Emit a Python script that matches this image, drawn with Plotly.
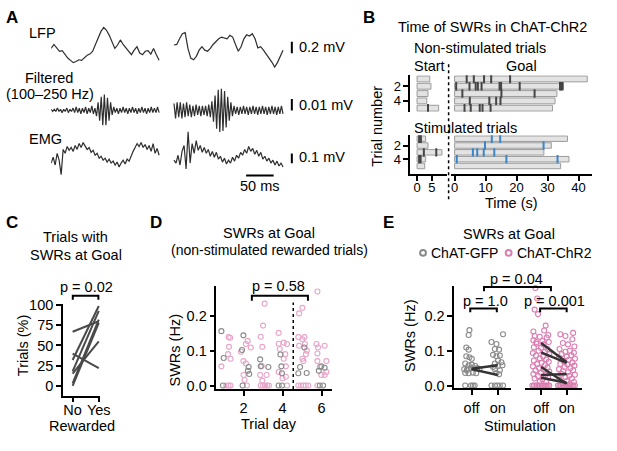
import numpy as np
import plotly.graph_objects as go

W, H = 617, 451
FONT = "Liberation Sans, Arial, sans-serif"
FS = 14.5

# ---- A: example SWR events (two events side by side), values in mV
lfp_left = [-0.06, 0.01, -0.05, -0.11, -0.10, -0.17, -0.23, -0.27, -0.31, -0.29,
            -0.26, -0.27, -0.22, -0.18, -0.16, -0.11, 0.01, 0.14, 0.24, 0.31,
            0.26, 0.17, 0.06, -0.06, 0.00, 0.09, 0.01, -0.05, -0.13, -0.17,
            -0.09, -0.03, -0.14, -0.17, -0.11, -0.10, -0.16, -0.06, -0.17, -0.27]
lfp_right = [0.00, 0.01, 0.11, 0.20, 0.22, -0.06, -0.23, -0.26, -0.20, -0.09,
             -0.03, -0.09, -0.11, -0.06, 0.01, 0.07, 0.11, 0.14, 0.13, 0.11,
             0.17, 0.14, 0.01, -0.11, -0.03, 0.11, 0.18, 0.16, 0.20, 0.11,
             -0.05, -0.03, -0.09, -0.17, -0.23, -0.30, -0.39, -0.31, -0.20, -0.09]
# filtered trace in microvolts
filt_left_uv = [1, -1, 1, -1, 2, -1, 1, -2, 1, -1,
                2, -2, 1, -1, 2, -2, 3, -2, 2, -3,
                2, -2, 3, -3, 2, -2, 4, -3, 2, -5,
                7, -9, 12, -13, 14, -13, 11, -9, 7, -4,
                3, -2, 2, -3, 2, -2, 3, -2, 2, -3,
                2, -2, 3, -2, 2, -3, 2, -2, 3, -2,
                2, -3, 2, -2, 3, -2, 2, -2, 3, -2]
filt_right_uv = [6, -7, 7, -6, 7, -7, 6, -6, 7, -5,
                 5, -6, 4, -5, 5, -4, 4, -5, 4, -4,
                 4, -5, 5, -6, 8, -10, 13, -16, 18, -19,
                 19, -18, 17, -15, 12, -9, 7, -5, 4, -3,
                 3, -4, 3, -3, 4, -3, 3, -4, 3, -3,
                 4, -3, 3, -4, 3, -3, 4, -3, 3, -4,
                 3, -3, 4, -3, 3, -4, 3, -3, 4, -3]
emg_left = [-0.08, -0.02, -0.10, 0.02, -0.05, -0.20, 0.06, 0.02, 0.09, 0.05,
            0.08, 0.04, 0.10, 0.06, 0.12, 0.08, 0.13, 0.09, 0.06, 0.08,
            0.03, 0.05, 0.00, 0.02, -0.03, -0.01, -0.05, -0.03, -0.07, -0.04,
            -0.08, -0.06, -0.10, -0.07, -0.12, -0.08, -0.05, -0.09, -0.04, -0.06,
            0.00, 0.04, 0.08, 0.12, 0.09, 0.13, 0.08, 0.11, 0.06, 0.10,
            0.04, 0.12, 0.02, 0.07, 0.00]
emg_right = [-0.05, -0.08, 0.00, -0.10, 0.04, 0.10, -0.14, 0.24, -0.08, 0.12,
             0.02, 0.15, 0.05, 0.10, 0.03, 0.08, 0.02, 0.06, -0.01, 0.04,
             -0.02, 0.03, -0.04, -0.01, -0.07, -0.03, -0.09, -0.05, -0.08, -0.02,
             -0.06, 0.00, -0.03, 0.03, 0.00, 0.06, 0.02, 0.09, 0.04, 0.07,
             0.01, 0.05, -0.01, 0.03, -0.04, -0.01, -0.06, -0.03, -0.08, -0.05,
             -0.10, -0.06, -0.11, -0.08, -0.12]

# ---- B: trial durations (s) and SWR times (s), trials 1-5
start_ns = [4.3, 4.7, 3.7, 3.3, 7.3]
goal_ns = [42.8, 35.1, 33.0, 32.4, 31.6]
start_st = [2.9, 3.7, 8.4, 2.9, 2.6]
goal_st = [36.4, 31.2, 28.8, 36.9, 34.2]
swr_start_ns = [[], [], [], [], [3.7]]
swr_goal_ns = [[3.9, 6.2, 9.5, 11.8, 17.9],
               [0.5, 4.8, 6.8, 7.5, 8.7, 14.5, 15.0, 21.0, 34.0, 34.4, 34.8],
               [2.5, 15.1, 25.8],
               [4.9, 11.2, 13.4, 14.8],
               [3.2, 5.2, 8.1, 9.0, 11.6]]
swr_start_st = [[0.7, 1.3], [], [2.3, 6.5], [0.7, 1.2], []]
swr_goal_st = [[12.0, 14.7], [9.8, 28.7], [5.9, 7.3, 9.4, 12.8], [0.7, 16.7, 33.2], []]

# ---- C: % trials with SWRs at goal, per animal
c_no = [67, 40, 32, 18, 15, 3, 0]
c_yes = [80, 22, 99, 93, 55, 82, 78]

# ---- D: SWR rate (Hz) by trial day (x includes jitter as drawn)
d_gfp_day = [0.86, 0.98, 0.94, 1.99, 1.92, 2.26, 2.22, 2.29, 1.95, 2.85, 2.88, 3.27,
             3.89, 3.94, 3.97, 3.80, 3.97, 5.12, 4.90, 4.81, 5.24, 5.99, 6.16, 5.86,
             5.91, 6.08]
d_gfp_val = [0.156, 0.079, 0.0, 0.144, 0.102, 0.053, 0.042, 0.033, 0.0, 0.075, 0.055, 0.053,
             0.089, 0.055, 0.035, 0.0, 0.0, 0.109, 0.053, 0.035, 0.036, 0.055, 0.051, 0.042,
             0.0, 0.0]
d_chr2_day = [0.86, 1.23, 1.31, 1.25, 1.33, 1.20, 1.11, 1.23, 1.33,
              2.21, 2.12, 2.37, 1.99, 2.12, 2.05, 2.00, 1.87, 2.17,
              3.08, 3.00, 2.88, 2.96, 2.93, 2.85, 2.96, 3.18, 2.88, 3.00, 3.10, 3.20, 3.30,
              3.80, 4.06, 4.23, 3.80, 3.86, 4.14, 4.17, 4.00, 4.17, 3.80, 4.06, 4.23,
              5.02, 4.85, 4.81, 5.12, 5.02, 4.85, 5.15, 5.20, 5.24, 5.07, 5.02,
              4.81, 4.95, 5.07, 5.19, 5.32,
              5.79, 5.74, 5.82, 6.16, 5.79, 5.79, 6.25, 5.99, 6.16, 5.91, 6.25, 5.79]
d_chr2_val = [0.055, 0.139, 0.137, 0.111, 0.077, 0.090, 0.0, 0.0, 0.0,
              0.128, 0.119, 0.109, 0.070, 0.063, 0.016, 0.030, 0.097, 0.0,
              0.235, 0.172, 0.140, 0.111, 0.056, 0.030, 0.014, 0.030, 0.0, 0.0, 0.0, 0.0, 0.0,
              0.151, 0.123, 0.119, 0.120, 0.105, 0.090, 0.055, 0.021, 0.025, 0.039, 0.077, 0.0,
              0.223, 0.207, 0.139, 0.139, 0.133, 0.114, 0.119, 0.090, 0.100, 0.070, 0.077,
              0.0, 0.0, 0.0, 0.0, 0.0,
              0.270, 0.119, 0.109, 0.114, 0.092, 0.070, 0.070, 0.030, 0.030, 0.053, 0.039, 0.0]

# ---- E: SWR rate (Hz), stimulation off/on (dx = horizontal jitter as drawn)
e_gfp_off_dx = [-0.08, -0.11, -0.20, -0.11, -0.20, -0.08, 0.01, -0.24, -0.11, 0.01, 0.14,
                -0.28, -0.15, -0.02, 0.10, 0.22, -0.24, -0.11, 0.05, 0.18, -0.18, 0.30,
                -0.24, -0.02, 0.05, 0.12]
e_gfp_off_val = [0.159, 0.145, 0.109, 0.103, 0.084, 0.081, 0.077, 0.063, 0.058, 0.060, 0.056,
                 0.047, 0.049, 0.050, 0.049, 0.050, 0.036, 0.035, 0.037, 0.035, 0.044, 0.047,
                 0.0, 0.0, 0.0, 0.0]
e_gfp_on_dx = [0.20, -0.24, -0.05, -0.11, 0.05, -0.18, -0.05, 0.08, 0.01, 0.14, -0.11, 0.01,
               0.18, -0.11, 0.08, -0.05, 0.05, -0.18, -0.24, -0.11, -0.02, 0.08, 0.20]
e_gfp_on_val = [0.147, 0.125, 0.119, 0.105, 0.103, 0.088, 0.084, 0.086, 0.072, 0.067, 0.063,
                0.056, 0.058, 0.047, 0.044, 0.036, 0.032, 0.053, 0.0, 0.0, 0.0, 0.0, 0.0]
e_chr2_off_dx = [-0.22, -0.15, -0.25, -0.12, 0.18, 0.12, -0.25, -0.05, 0.22, -0.30, 0.05, 0.30,
                 -0.18, 0.10, -0.28, 0.00, 0.25, -0.10, 0.15, -0.32, 0.32, -0.20, 0.08, -0.05,
                 0.20, -0.28, 0.30, 0.02, -0.15, 0.15, -0.32, 0.25, -0.08, 0.10, -0.22, 0.32,
                 0.00, -0.30, 0.18, -0.12, 0.27, -0.25, 0.05, -0.05, 0.20, -0.18, 0.28, -0.30,
                 -0.34, -0.28, -0.22, -0.16, -0.10, -0.04, 0.02, 0.08, 0.14, 0.20, 0.26, 0.32]
e_chr2_off_val = [0.280, 0.250, 0.218, 0.205, 0.172, 0.158, 0.142, 0.140, 0.138, 0.130, 0.128,
                  0.125, 0.120, 0.118, 0.110, 0.108, 0.105, 0.100, 0.097, 0.093, 0.090, 0.086,
                  0.083, 0.078, 0.075, 0.072, 0.068, 0.065, 0.062, 0.058, 0.055, 0.052, 0.050,
                  0.046, 0.043, 0.040, 0.037, 0.033, 0.030, 0.027, 0.024, 0.020, 0.018, 0.012,
                  0.010, 0.125, 0.145, 0.155,
                  0.0, 0.0, 0.0, 0.0, 0.0, 0.0, 0.0, 0.0, 0.0, 0.0, 0.0, 0.0]
e_chr2_on_dx = [-0.25, -0.05, 0.25, 0.22, -0.15, 0.05, 0.30, -0.28, 0.12, -0.05, 0.28, -0.20,
                0.18, 0.00, -0.30, 0.32, 0.08, -0.12, 0.22, -0.25, 0.02, 0.30, -0.08, 0.15,
                -0.30, 0.25, -0.15, 0.05, -0.22, 0.32, 0.10, -0.05, 0.20, -0.28, 0.00, 0.28,
                -0.15, 0.12,
                -0.34, -0.28, -0.22, -0.16, -0.10, -0.04, 0.02, 0.08, 0.14, 0.20, 0.26, 0.32]
e_chr2_on_val = [0.147, 0.142, 0.151, 0.133, 0.122, 0.118, 0.112, 0.105, 0.100, 0.097, 0.094,
                 0.090, 0.087, 0.083, 0.080, 0.077, 0.074, 0.070, 0.066, 0.062, 0.060, 0.057,
                 0.054, 0.050, 0.047, 0.044, 0.041, 0.038, 0.034, 0.031, 0.028, 0.024, 0.020,
                 0.017, 0.013, 0.010, 0.007, 0.004,
                 0.0, 0.0, 0.0, 0.0, 0.0, 0.0, 0.0, 0.0, 0.0, 0.0, 0.0, 0.0]
# per-animal means
e_gfp_mean_off = [0.048, 0.047]
e_gfp_mean_on = [0.058, 0.030]
e_chr2_mean_off = [0.122, 0.095, 0.053, 0.030, 0.022]
e_chr2_mean_on = [0.067, 0.065, 0.005, 0.033, 0.008]

TRACE = "#2e2e2e"
BAR_FILL = "#e3e3e3"
BAR_LINE = "#9c9c9c"
SWR_DARK = "#454545"
SWR_BLUE = "#3b86c6"
GRAY = "#8a8a8a"
PINK_D = "#e8a4c9"
PINK_E = "#da7db1"


def xd(a, b):
    return [a / W, b / W]


def dom(bottom, top):
    return [1 - bottom / H, 1 - top / H]


fig = go.Figure()

# A traces
for yax, scale, left, right in [("y", 1, lfp_left, lfp_right),
                                ("y2", 0.001, filt_left_uv, filt_right_uv),
                                ("y3", 1, emg_left, emg_right)]:
    for vals, t0, t1 in [(left, 0, 196), (right, 223, 421)]:
        fig.add_trace(go.Scatter(x=np.linspace(t0, t1, len(vals)),
                                 y=np.array(vals) * scale, mode="lines",
                                 line=dict(color=TRACE, width=1.2),
                                 xaxis="x", yaxis=yax, hoverinfo="skip"))


# B bars and SWR ticks
def trial_rows(starts, goals, swr_s, swr_g, xs, xg, yax, tick_color_goal):
    rows = list(range(1, len(starts) + 1))
    for xax, dur in [(xs, starts), (xg, goals)]:
        fig.add_trace(go.Bar(x=dur, y=rows, orientation="h", width=0.8,
                             marker=dict(color=BAR_FILL, line=dict(color=BAR_LINE, width=1)),
                             xaxis=xax, yaxis=yax, hoverinfo="skip"))
    for xax, ev, col in [(xs, swr_s, SWR_DARK), (xg, swr_g, tick_color_goal)]:
        ex = [t for r in ev for t in r]
        ey = [i + 1 for i, r in enumerate(ev) for _ in r]
        fig.add_trace(go.Scatter(x=ex, y=ey, mode="markers",
                                 marker=dict(symbol="line-ns", size=6,
                                             line=dict(color=col, width=2)),
                                 xaxis=xax, yaxis=yax, hoverinfo="skip"))


trial_rows(start_ns, goal_ns, swr_start_ns, swr_goal_ns, "x2", "x3", "y4", SWR_DARK)
trial_rows(start_st, goal_st, swr_start_st, swr_goal_st, "x4", "x5", "y5", SWR_BLUE)

# C lines
for a, b in zip(c_no, c_yes):
    fig.add_trace(go.Scatter(x=[0, 1], y=[a, b], mode="lines",
                             line=dict(color="#4a4a4a", width=2),
                             xaxis="x6", yaxis="y6", hoverinfo="skip"))


# D scatter
def open_pts(x, y, color, xax, yax, lw=1.1):
    fig.add_trace(go.Scatter(x=x, y=y, mode="markers", cliponaxis=False,
                             marker=dict(symbol="circle-open", size=5, color=color,
                                         line=dict(width=lw)),
                             xaxis=xax, yaxis=yax, hoverinfo="skip"))


open_pts(d_chr2_day, d_chr2_val, PINK_D, "x7", "y7")
open_pts(d_gfp_day, d_gfp_val, GRAY, "x7", "y7")

# E scatter
open_pts(np.array(e_gfp_off_dx), e_gfp_off_val, GRAY, "x8", "y8")
open_pts(np.array(e_gfp_on_dx) + 1, e_gfp_on_val, GRAY, "x8", "y8")
open_pts(np.array(e_chr2_off_dx), e_chr2_off_val, PINK_E, "x9", "y8")
open_pts(np.array(e_chr2_on_dx) + 1, e_chr2_on_val, PINK_E, "x9", "y8")
for xax, offs, ons in [("x8", e_gfp_mean_off, e_gfp_mean_on),
                       ("x9", e_chr2_mean_off, e_chr2_mean_on)]:
    for a, b in zip(offs, ons):
        fig.add_trace(go.Scatter(x=[0, 1], y=[a, b], mode="lines",
                                 line=dict(color="#333333", width=2.5),
                                 xaxis=xax, yaxis="y8", hoverinfo="skip"))

AX = dict(showgrid=False, zeroline=False, showline=True, linecolor="black", linewidth=1.5,
          ticks="outside", ticklen=5, tickwidth=1.5, tickcolor="black",
          tickfont=dict(size=FS, family=FONT, color="black"), fixedrange=True)
# panel B uses slightly smaller tick labels
AXB = dict(AX, tickfont=dict(size=13, family=FONT, color="black"))


def text(s, x, y, xa="center", size=FS, angle=0, bold=False):
    return dict(text=f"<b>{s}</b>" if bold else s, x=x / W, y=1 - y / H,
                xref="paper", yref="paper", xanchor=xa, yanchor="middle",
                showarrow=False, textangle=angle,
                font=dict(size=size, family=FONT, color="black"))


def bracket(x0, x1, y, leg):
    return dict(type="path", xref="paper", yref="paper",
                path=f"M {x0 / W},{1 - (y + leg) / H} L {x0 / W},{1 - y / H} "
                     f"L {x1 / W},{1 - y / H} L {x1 / W},{1 - (y + leg) / H}",
                line=dict(color="black", width=2))


annotations = [
    text("A", 4, 12, "left", 17, bold=True),
    text("B", 367, 12, "left", 17, bold=True),
    text("C", 4, 222, "left", 17, bold=True),
    text("D", 150, 222, "left", 17, bold=True),
    text("E", 387, 222, "left", 17, bold=True),
    # A
    text("LFP", 27, 28, "left"),
    text("Filtered", 50, 74),
    text("(100–250 Hz)", 51, 90),
    text("EMG", 27, 136, "left"),
    text("0.2 mV", 302, 42, "left"),
    text("0.01 mV", 302, 101, "left"),
    text("0.1 mV", 302, 155, "left"),
    text("50 ms", 264, 184),
    # B
    text("Time of SWRs in ChAT-ChR2", 501, 22),
    text("Non-stimulated trials", 419, 43, "left"),
    text("Start", 419, 62, "left"),
    text("Goal", 530, 62),
    text("Stimulated trials", 419, 125, "left"),
    text("Time (s)", 520, 202),
    text("Trial number", 383, 123, angle=-90),
    # C
    text("Trials with", 77, 237),
    text("SWRs at Goal", 77, 255),
    text("p = 0.02", 88, 288),
    text("Trials (%)", 23, 348, angle=-90),
    text("Rewarded", 83, 431),
    # D
    text("SWRs at Goal", 273, 233),
    text("(non-stimulated rewarded trials)", 274, 250, size=14),
    text("p = 0.58", 283, 287),
    text("SWRs (Hz)", 178, 353, angle=-90),
    text("Trial day", 273, 428),
    # E
    text("SWRs at Goal", 517, 234),
    text("ChAT-GFP", 436, 253, "left", size=14),
    text("ChAT-ChR2", 523, 253, "left", size=14),
    text("p = 0.04", 525, 280),
    text("p = 1.0", 493, 302),
    text("p = 0.001", 564, 302),
    text("SWRs (Hz)", 417, 338, angle=-90),
    text("Stimulation", 529, 430),
]

shapes = [
    # A scale bars
    dict(type="line", xref="x", yref="y", x0=437, x1=437, y0=-0.143, y1=0.057,
         line=dict(color="black", width=2)),
    dict(type="line", xref="x", yref="y2", x0=437, x1=437, y0=0.0, y1=0.01,
         line=dict(color="black", width=2)),
    dict(type="line", xref="x", yref="y3", x0=437, x1=437, y0=-0.083, y1=0.017,
         line=dict(color="black", width=2)),
    dict(type="line", xref="x", yref="y3", x0=354, x1=404, y0=-0.207, y1=-0.207,
         line=dict(color="black", width=2)),
    # B dotted separator
    dict(type="line", xref="paper", yref="paper", x0=456 / W, x1=456 / W,
         y0=1 - 198 / H, y1=1 - 58 / H, line=dict(color="black", width=1.5, dash="dot")),
    # D dotted line
    dict(type="line", xref="x7", yref="y7", x0=4.55, x1=4.55, y0=-0.0104, y1=0.238,
         line=dict(color="black", width=1.5, dash="dot")),
    # brackets
    bracket(74, 100, 297, 4),
    bracket(256, 313, 297, 5),
    bracket(492, 560, 288, 4.5),
    bracket(478, 505, 310, 4),
    bracket(549, 576, 310, 4),
    # E legend markers
    dict(type="circle", xref="paper", yref="paper", x0=427 / W, x1=433 / W,
         y0=1 - 256 / H, y1=1 - 250 / H, line=dict(color=GRAY, width=2)),
    dict(type="circle", xref="paper", yref="paper", x0=514 / W, x1=520 / W,
         y0=1 - 256 / H, y1=1 - 250 / H, line=dict(color=PINK_E, width=2)),
]

fig.update_layout(
    width=W, height=H, autosize=False, margin=dict(l=0, r=0, t=0, b=0),
    paper_bgcolor="white", plot_bgcolor="rgba(0,0,0,0)", showlegend=False,
    font=dict(family=FONT, size=FS, color="black"),
    annotations=annotations, shapes=shapes,
    xaxis=dict(visible=False, domain=xd(52, 300), range=[0, 443], anchor="y", fixedrange=True),
    yaxis=dict(visible=False, domain=dom(65, 15), range=[-0.43, 0.43], anchor="x"),
    yaxis2=dict(visible=False, domain=dom(132, 82), range=[-0.0214, 0.0214], anchor="x"),
    yaxis3=dict(visible=False, domain=dom(181, 125), range=[-0.28, 0.28], anchor="x"),
    xaxis2=dict(visible=False, domain=xd(417, 454), range=[-2.3, 10], anchor="y4"),
    yaxis4=dict(**AXB, domain=dom(108.5, 71), range=[5.5, 0.5], tickvals=[2, 4], anchor="x2"),
    xaxis3=dict(visible=False, domain=xd(458, 602), range=[-1.3, 44.4], anchor="y4"),
    xaxis4=dict(**AXB, domain=xd(417, 454), range=[-2.3, 10], tickvals=[0, 5], anchor="y5",
                ticklabelstandoff=-5),
    yaxis5=dict(**AXB, domain=dom(172.4, 132.5), range=[6.2, 0.5], tickvals=[2, 4], anchor="x4"),
    xaxis5=dict(**AXB, domain=xd(458, 602), range=[-1.3, 44.4],
                tickvals=[0, 10, 20, 30, 40], anchor="y5", ticklabelstandoff=-5),
    xaxis6=dict(**AX, domain=xd(64, 102), range=[-0.37, 1.06], tickvals=[0, 1],
                ticktext=["No", "Yes"], anchor="y6", ticklabelstandoff=-5),
    yaxis6=dict(**AX, domain=dom(399.3, 305), range=[-12.1, 102],
                tickvals=[0, 25, 50, 75, 100], anchor="x6"),
    xaxis7=dict(**AX, domain=xd(220, 337), range=[0.606, 6.515], tickvals=[2, 4, 6], anchor="y7"),
    yaxis7=dict(**AX, domain=dom(392.7, 287), range=[-0.0104, 0.2857],
                tickvals=[0, 0.1, 0.2], tickformat=".1f", anchor="x7"),
    xaxis8=dict(**AX, domain=xd(461.7, 519.3), range=[-0.66, 1.5], tickvals=[0, 1],
                ticktext=["off", "on"], anchor="y8"),
    xaxis9=dict(**AX, domain=xd(533.3, 591.7), range=[-0.64, 1.6], tickvals=[0, 1],
                ticktext=["off", "on"], anchor="y8"),
    yaxis8=dict(**AX, domain=dom(392, 287.3), range=[-0.0084, 0.2849],
                tickvals=[0, 0.1, 0.2], tickformat=".1f", anchor="x8"),
)

# drop the default page margin so the figure sits at the window's top-left
fig.write_html("out.html", config={"displayModeBar": False},
               post_script="document.body.style.margin='0px';"
                           "document.body.style.overflow='hidden';"
                           "document.documentElement.style.overflow='hidden';")
